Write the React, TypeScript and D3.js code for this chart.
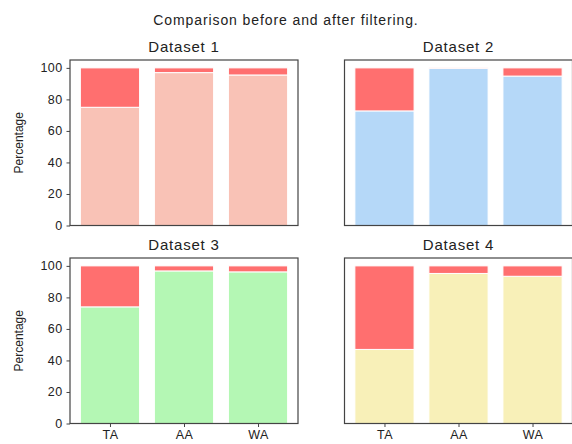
import React, { useEffect, useRef } from 'react';
import * as d3 from 'd3';

// categories and values (percent kept after filtering)
const categories = ['TA', 'AA', 'WA'];
const datasetNames = ['Dataset 1', 'Dataset 2', 'Dataset 3', 'Dataset 4'];
const dataset1 = [75, 97, 95.5];
const dataset2 = [72.7, 99.7, 94.8];
const dataset3 = [74, 96.8, 96.2];
const dataset4 = [47, 95.2, 93.4];
const yTicks = [0, 20, 40, 60, 80, 100];
const keptColors = ['#f9c2b6', '#b5d8f8', '#b4f7b4', '#f8f0b8'];
const removedColor = '#ff6f6f';

const App = () => {
  const chartRef = useRef<SVGSVGElement>(null);

  useEffect(() => {
    const svg = d3.select(chartRef.current);
    svg.selectAll('*').remove();

    const font = '"Liberation Sans", Arial, sans-serif';
    const all = [dataset1, dataset2, dataset3, dataset4];
    const panels = [
      { left: 70, top: 60 },
      { left: 344.5, top: 60 },
      { left: 70, top: 258 },
      { left: 344.5, top: 258 },
    ];
    const width = 228;
    const height = 165.5;

    svg
      .append('text')
      .attr('x', 286)
      .attr('y', 25)
      .attr('text-anchor', 'middle')
      .attr('font-family', font)
      .attr('font-size', 14)
      .attr('letter-spacing', 0.9)
      .attr('fill', '#222')
      .text('Comparison before and after filtering.');

    all.forEach((values, i) => {
      const p = panels[i];
      const g = svg.append('g').attr('transform', `translate(${p.left},${p.top})`);

      const x = d3.scaleLinear().domain([-0.54, 2.54]).range([0, width]);
      const y = d3.scaleLinear().domain([0, 105]).range([height, 0]);
      const bw = x(0.4) - x(-0.4);

      // kept part
      g.selectAll('.kept')
        .data(values)
        .enter()
        .append('rect')
        .attr('x', (d, j) => x(j - 0.4))
        .attr('y', (d) => y(d))
        .attr('width', bw)
        .attr('height', (d) => y(0) - y(d))
        .attr('fill', keptColors[i])
        .attr('stroke', '#fff')
        .attr('stroke-width', 1);

      // removed part
      g.selectAll('.removed')
        .data(values)
        .enter()
        .append('rect')
        .attr('x', (d, j) => x(j - 0.4))
        .attr('y', y(100))
        .attr('width', bw)
        .attr('height', (d) => y(d) - y(100))
        .attr('fill', removedColor)
        .attr('stroke', '#fff')
        .attr('stroke-width', 1);

      // frame
      g.append('rect')
        .attr('x', 0)
        .attr('y', 0)
        .attr('width', width)
        .attr('height', height)
        .attr('fill', 'none')
        .attr('stroke', '#444')
        .attr('stroke-width', 1.2);

      g.append('text')
        .attr('x', width / 2)
        .attr('y', -8)
        .attr('text-anchor', 'middle')
        .attr('font-family', font)
        .attr('font-size', 15)
        .attr('letter-spacing', 0.8)
        .attr('fill', '#222')
        .text(datasetNames[i]);

      if (i % 2 === 0) {
        const yAxis = g.append('g').call(d3.axisLeft(y).tickValues(yTicks).tickSize(3.5).tickPadding(4));
        yAxis.select('.domain').remove();
        yAxis.selectAll('line').attr('stroke', '#444');
        yAxis
          .selectAll('text')
          .attr('font-family', font)
          .attr('font-size', 12.5)
          .attr('letter-spacing', 0.4)
          .attr('fill', '#222');

        g.append('text')
          .attr('transform', `translate(-47,${height / 2}) rotate(-90)`)
          .attr('text-anchor', 'middle')
          .attr('font-family', font)
          .attr('font-size', 12)
          .attr('fill', '#222')
          .text('Percentage');
      }

      if (i >= 2) {
        const xAxis = g
          .append('g')
          .attr('transform', `translate(0,${height})`)
          .call(
            d3
              .axisBottom(x)
              .tickValues([0, 1, 2])
              .tickFormat((d) => categories[d as number])
              .tickSize(3.5)
              .tickPadding(3)
          );
        xAxis.select('.domain').remove();
        xAxis.selectAll('line').attr('stroke', '#444');
        xAxis
          .selectAll('text')
          .attr('font-family', font)
          .attr('font-size', 12.5)
          .attr('letter-spacing', 0.4)
          .attr('fill', '#222');
      }
    });
  }, []);

  return (
    <svg
      ref={chartRef}
      width={572}
      height={444}
      style={{ position: 'absolute', left: 0, top: 0, background: '#fff' }}
    />
  );
};

export default App;
